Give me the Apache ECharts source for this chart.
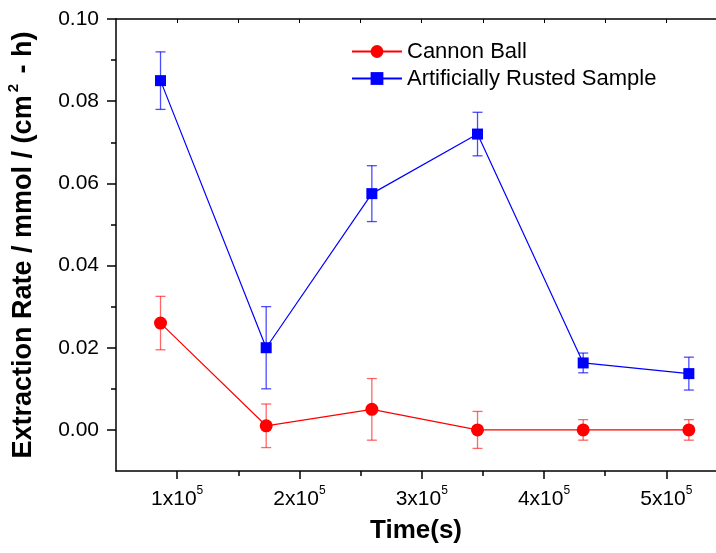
<!DOCTYPE html>
<html>
<head>
<meta charset="utf-8">
<script src="https://cdn.jsdelivr.net/npm/echarts@6/dist/echarts.min.js"></script>
<style>
  html, body { margin: 0; padding: 0; background: #fff; }
  #chart { width: 716px; height: 553px; }
</style>
</head>
<body>
<div id="chart"></div>
<script>
// time in seconds (one point per day)
const times = [86400, 172800, 259200, 345600, 432000, 518400];
const cannonBall = [0.026, 0.001, 0.005, 0.0, 0.0, 0.0];
const cannonBallErr = [0.0065, 0.0053, 0.0075, 0.0045, 0.0025, 0.0025];
const rusted = [0.085, 0.020, 0.0575, 0.072, 0.0163, 0.0137];
const rustedErr = [0.007, 0.010, 0.0068, 0.0053, 0.0024, 0.004];

const xMajor = [100000, 200000, 300000, 400000, 500000];
const xMinor = [150000, 250000, 350000, 450000];
const yMajor = [0, 0.02, 0.04, 0.06, 0.08, 0.10];
const yMinor = [0.01, 0.03, 0.05, 0.07, 0.09];

const font = 'Liberation Sans, Arial, sans-serif';
const X_MIN = 50000, X_MAX = 540600, Y_MIN = -0.01, Y_MAX = 0.10;

const chart = echarts.init(document.getElementById('chart'));

function pairs(vals, errs) {
    return times.map((t, i) => [t, vals[i], errs[i]]);
}

function errorBars(color) {
    return function (params, api) {
        const x = api.value(0), y = api.value(1), e = api.value(2);
        const top = api.coord([x, y + e]);
        const bot = api.coord([x, y - e]);
        const w = 5;
        const style = { stroke: color, lineWidth: 1.3 };
        return {
            type: 'group',
            children: [
                { type: 'line', shape: { x1: top[0], y1: top[1], x2: bot[0], y2: bot[1] }, style: style },
                { type: 'line', shape: { x1: top[0] - w, y1: top[1], x2: top[0] + w, y2: top[1] }, style: style },
                { type: 'line', shape: { x1: bot[0] - w, y1: bot[1], x2: bot[0] + w, y2: bot[1] }, style: style }
            ]
        };
    };
}

function xLabel(v) {
    return '{b|' + Math.round(v / 100000) + 'x10}{s|5}';
}

const axisLine = { show: true, onZero: false, lineStyle: { color: '#000', width: 1.5 } };

let options = {
    animation: false,
    backgroundColor: '#fff',
    grid: { left: 116, right: 0, top: 19, bottom: 82, outerBoundsMode: 'none', containLabel: false },
    legend: {
        orient: 'vertical',
        left: 346,
        top: 34,
        itemWidth: 50,
        itemHeight: 16,
        itemGap: 2,
        data: ['Cannon Ball', 'Artificially Rusted Sample'],
        textStyle: { fontFamily: font, fontSize: 22, lineHeight: 25, color: '#000' }
    },
    xAxis: [
        {
            type: 'value', position: 'bottom', min: X_MIN, max: X_MAX,
            axisLine: axisLine,
            splitLine: { show: false },
            axisTick: { show: true, length: 8, customValues: xMajor, lineStyle: { color: '#000', width: 1.5 } },
            axisLabel: {
                customValues: xMajor, margin: 14, formatter: xLabel,
                rich: {
                    b: { fontFamily: font, fontSize: 21, color: '#000', verticalAlign: 'bottom', lineHeight: 25 },
                    s: { fontFamily: font, fontSize: 12, color: '#000', verticalAlign: 'top', lineHeight: 12 }
                }
            },
            name: 'Time(s)', nameLocation: 'middle', nameGap: 47,
            nameTextStyle: { fontFamily: font, fontSize: 26, fontWeight: 'bold', color: '#000' }
        },
        {
            type: 'value', position: 'bottom', min: X_MIN, max: X_MAX,
            axisLine: { show: false, onZero: false }, splitLine: { show: false },
            axisTick: { show: true, length: 5, customValues: xMinor, lineStyle: { color: '#000', width: 1.5 } },
            axisLabel: { show: false }
        },
        {
            type: 'value', position: 'top', min: X_MIN, max: X_MAX,
            axisLine: axisLine, splitLine: { show: false },
            axisTick: { show: true, inside: true, length: 4, customValues: xMajor.concat(xMinor), lineStyle: { color: '#000', width: 1 } },
            axisLabel: { show: false }
        }
    ],
    yAxis: [
        {
            type: 'value', position: 'left', min: Y_MIN, max: Y_MAX,
            axisLine: axisLine, splitLine: { show: false },
            axisTick: { show: true, length: 9, customValues: yMajor, lineStyle: { color: '#000', width: 1.5 } },
            axisLabel: {
                customValues: yMajor, margin: 17,
                formatter: v => v.toFixed(2),
                fontFamily: font, fontSize: 21, color: '#000'
            },
            name: '{t|Extraction Rate / mmol / (cm}{s|2}{t| - h)}',
            nameLocation: 'middle', nameGap: 79,
            nameTextStyle: {
                rich: {
                    t: { fontFamily: font, fontSize: 27, fontWeight: 'bold', color: '#000', verticalAlign: 'bottom', lineHeight: 31 },
                    s: { fontFamily: font, fontSize: 15, fontWeight: 'bold', color: '#000', verticalAlign: 'top', lineHeight: 15, padding: [0, 3, 0, 3] }
                }
            }
        },
        {
            type: 'value', position: 'left', min: Y_MIN, max: Y_MAX,
            axisLine: { show: false, onZero: false }, splitLine: { show: false },
            axisTick: { show: true, length: 5, customValues: yMinor, lineStyle: { color: '#000', width: 1.5 } },
            axisLabel: { show: false }
        }
    ],
    series: [
        {
            name: 'Cannon Ball err', type: 'custom', xAxisIndex: 0, yAxisIndex: 0, z: 1,
            renderItem: errorBars('rgba(255,0,0,0.6)'),
            encode: { x: 0, y: [1] },
            data: pairs(cannonBall, cannonBallErr)
        },
        {
            name: 'Rusted err', type: 'custom', xAxisIndex: 0, yAxisIndex: 0, z: 1,
            renderItem: errorBars('rgba(0,0,255,0.7)'),
            encode: { x: 0, y: [1] },
            data: pairs(rusted, rustedErr)
        },
        {
            name: 'Cannon Ball', type: 'line', xAxisIndex: 0, yAxisIndex: 0, z: 3,
            symbol: 'circle', symbolSize: 13,
            itemStyle: { color: '#ff0000' },
            lineStyle: { color: '#ff0000', width: 1.2 },
            data: times.map((t, i) => [t, cannonBall[i]])
        },
        {
            name: 'Artificially Rusted Sample', type: 'line', xAxisIndex: 0, yAxisIndex: 0, z: 3,
            symbol: 'rect', symbolSize: 11,
            itemStyle: { color: '#0000ff' },
            lineStyle: { color: '#0000ff', width: 1.2 },
            data: times.map((t, i) => [t, rusted[i]])
        }
    ]
};
chart.setOption(options, true);
</script>
</body>
</html>
